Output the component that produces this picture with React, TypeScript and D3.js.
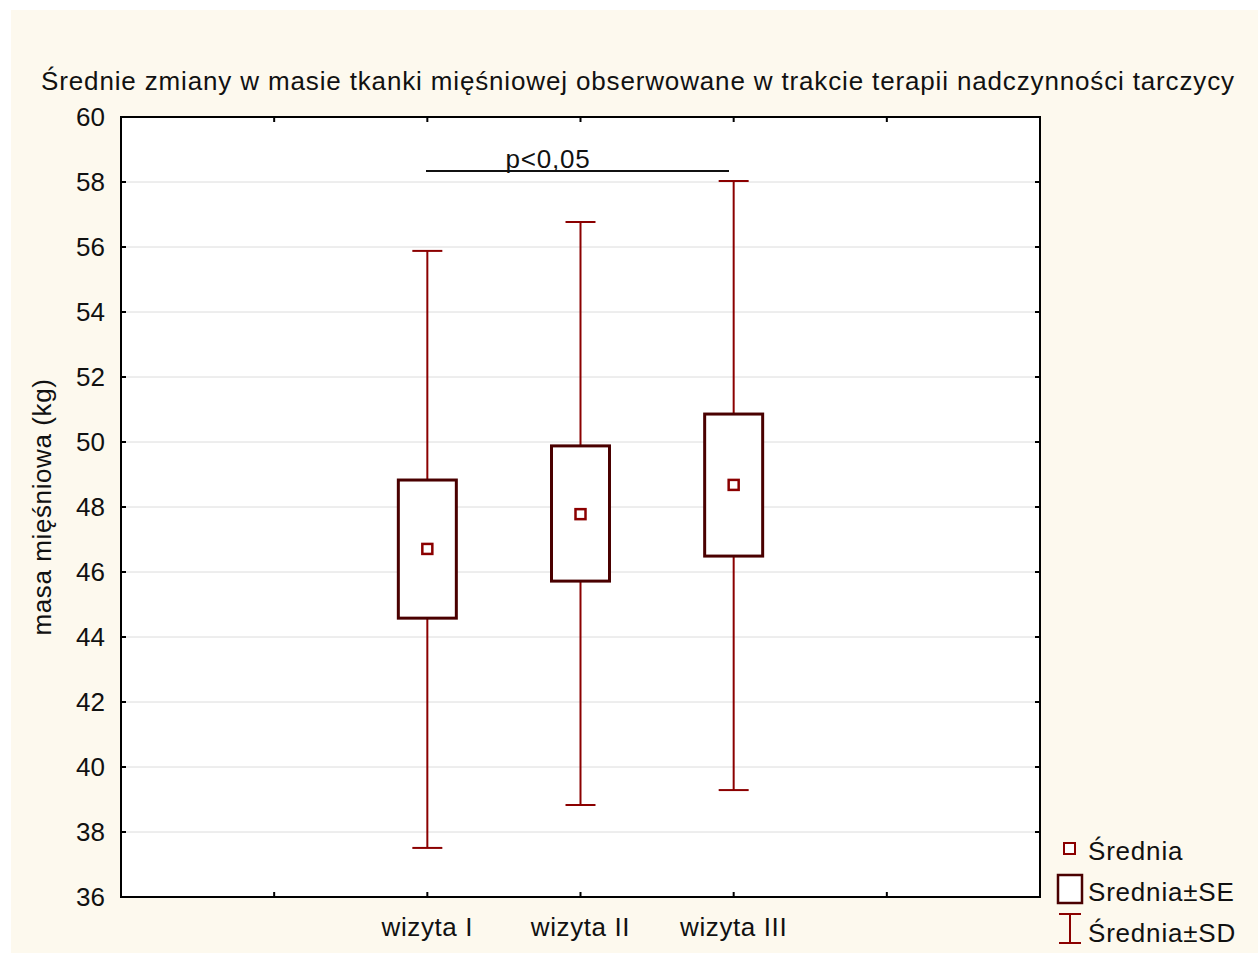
import React, { useEffect, useRef } from 'react';
import * as d3 from 'd3';

const categories = ['wizyta I', 'wizyta II', 'wizyta III'];
const means = [46.71, 47.78, 48.68];
const seLow = [44.58, 45.72, 46.49];
const seHigh = [48.83, 49.88, 50.86];
const sdLow = [37.51, 38.83, 39.29];
const sdHigh = [55.88, 56.77, 58.03];
const yTicks = [36, 38, 40, 42, 44, 46, 48, 50, 52, 54, 56, 58, 60];
const legendLabels = ['Średnia', 'Srednia±SE', 'Średnia±SD'];

const width = 1258;
const height = 953;
const font = 'Liberation Sans, Arial, sans-serif';

const App: React.FC = () => {
  const svgRef = useRef<SVGSVGElement>(null);

  useEffect(() => {
    if (!svgRef.current) return;
    const svg = d3.select(svgRef.current);
    svg.selectAll('*').remove();

    const left = 121, right = 1040, top = 117, bottom = 897;

    // background
    svg.append('rect').attr('x', 0).attr('y', 0).attr('width', width).attr('height', height).attr('fill', '#ffffff');
    svg.append('rect').attr('x', 11).attr('y', 10).attr('width', width - 11).attr('height', height - 10).attr('fill', '#fdf9ee');
    svg.append('rect').attr('x', left).attr('y', top).attr('width', right - left).attr('height', bottom - top).attr('fill', '#ffffff');

    const y = d3.scaleLinear().domain([36, 60]).range([bottom, top]);
    // 6 slots across, categories sit on positions 2..4
    const x = d3.scaleLinear().domain([0, 6]).range([left, right]);
    const catX = (i: number) => x(i + 2);

    const txt = (sel: any, size = 26, ls = 0.8) =>
      sel.style('font-family', font).style('font-size', `${size}px`).style('letter-spacing', `${ls}px`).attr('fill', '#111');

    // grid
    svg.append('g')
      .selectAll('line')
      .data(yTicks.filter(t => t !== 36 && t !== 60))
      .enter().append('line')
      .attr('x1', left).attr('x2', right)
      .attr('y1', d => y(d)).attr('y2', d => y(d))
      .attr('stroke', '#dcdcdc').attr('stroke-width', 1);

    // ticks (inward)
    const tk = svg.append('g').attr('stroke', '#000').attr('stroke-width', 2);
    yTicks.forEach(t => {
      tk.append('line').attr('x1', left).attr('x2', left + 5).attr('y1', y(t)).attr('y2', y(t));
      tk.append('line').attr('x1', right - 5).attr('x2', right).attr('y1', y(t)).attr('y2', y(t));
    });
    d3.range(1, 6).forEach(k => {
      tk.append('line').attr('x1', x(k)).attr('x2', x(k)).attr('y1', bottom).attr('y2', bottom - 5);
      tk.append('line').attr('x1', x(k)).attr('x2', x(k)).attr('y1', top).attr('y2', top + 5);
    });

    // frame
    svg.append('rect').attr('x', left).attr('y', top).attr('width', right - left).attr('height', bottom - top)
      .attr('fill', 'none').attr('stroke', '#000').attr('stroke-width', 2);

    // y labels
    txt(svg.append('g').selectAll('text').data(yTicks).enter().append('text')
      .attr('x', 105).attr('y', d => y(d) + 9)
      .attr('text-anchor', 'end')
      .text(d => d), 26, 0);

    // x labels
    txt(svg.append('g').selectAll('text').data(categories).enter().append('text')
      .attr('x', (d, i) => catX(i)).attr('y', 936)
      .attr('text-anchor', 'middle')
      .text(d => d), 26, 0.6);

    // y axis title
    txt(svg.append('text')
      .attr('transform', 'translate(51,507) rotate(-90)')
      .attr('text-anchor', 'middle')
      .text('masa mięśniowa (kg)'), 26, 0.6);

    // title
    txt(svg.append('text')
      .attr('x', 638).attr('y', 90)
      .attr('text-anchor', 'middle')
      .text('Średnie zmiany w masie tkanki mięśniowej obserwowane w trakcie terapii nadczynności tarczycy'), 26, 0.85);

    // whiskers (SD)
    const cap = 15;
    const g = svg.append('g');
    categories.forEach((c, i) => {
      const cx = catX(i);
      g.append('line').attr('x1', cx).attr('x2', cx).attr('y1', y(sdHigh[i])).attr('y2', y(seHigh[i]))
        .attr('stroke', '#8b0000').attr('stroke-width', 2);
      g.append('line').attr('x1', cx).attr('x2', cx).attr('y1', y(seLow[i])).attr('y2', y(sdLow[i]))
        .attr('stroke', '#8b0000').attr('stroke-width', 2);
      g.append('line').attr('x1', cx - cap).attr('x2', cx + cap).attr('y1', y(sdHigh[i])).attr('y2', y(sdHigh[i]))
        .attr('stroke', '#8b0000').attr('stroke-width', 2);
      g.append('line').attr('x1', cx - cap).attr('x2', cx + cap).attr('y1', y(sdLow[i])).attr('y2', y(sdLow[i]))
        .attr('stroke', '#8b0000').attr('stroke-width', 2);
      // SE box
      g.append('rect').attr('x', cx - 29).attr('width', 58)
        .attr('y', y(seHigh[i])).attr('height', y(seLow[i]) - y(seHigh[i]))
        .attr('fill', '#ffffff').attr('stroke', '#4a0000').attr('stroke-width', 3);
      // mean
      g.append('rect').attr('x', cx - 5).attr('y', y(means[i]) - 5).attr('width', 10).attr('height', 10)
        .attr('fill', '#ffffff').attr('stroke', '#8b0000').attr('stroke-width', 2.5);
    });

    // significance annotation
    svg.append('line').attr('x1', 426).attr('x2', 729).attr('y1', 171).attr('y2', 171)
      .attr('stroke', '#111').attr('stroke-width', 2);
    txt(svg.append('text').attr('x', 548).attr('y', 168)
      .attr('text-anchor', 'middle')
      .text('p<0,05'), 26, 0.8);

    // legend
    const lg = svg.append('g');
    lg.append('rect').attr('x', 1064).attr('y', 843).attr('width', 11).attr('height', 11)
      .attr('fill', '#fff').attr('stroke', '#8b0000').attr('stroke-width', 2);
    lg.append('rect').attr('x', 1058).attr('y', 875).attr('width', 24).attr('height', 28)
      .attr('fill', '#fff').attr('stroke', '#4a0000').attr('stroke-width', 2.5);
    lg.append('line').attr('x1', 1070).attr('x2', 1070).attr('y1', 914).attr('y2', 943).attr('stroke', '#8b0000').attr('stroke-width', 2);
    lg.append('line').attr('x1', 1059).attr('x2', 1081).attr('y1', 914).attr('y2', 914).attr('stroke', '#8b0000').attr('stroke-width', 2);
    lg.append('line').attr('x1', 1059).attr('x2', 1081).attr('y1', 943).attr('y2', 943).attr('stroke', '#8b0000').attr('stroke-width', 2);
    txt(lg.selectAll('text').data(legendLabels).enter().append('text')
      .attr('x', 1088).attr('y', (d, i) => 860 + i * 41)
      .text(d => d), 26, 0.8);
  }, []);

  return (
    <svg ref={svgRef} width={width} height={height}
      style={{ position: 'absolute', left: 0, top: 0, display: 'block' }} />
  );
};

export default App;
